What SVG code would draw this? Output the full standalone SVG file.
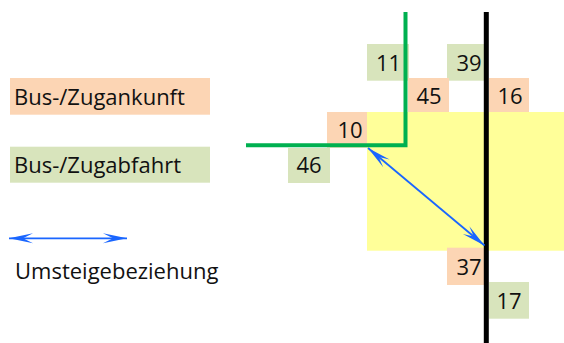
<svg xmlns="http://www.w3.org/2000/svg" width="564" height="343" viewBox="0 0 564 343">
<defs>
<style>
.arr{fill:#fcd5b4}
.dep{fill:#d8e4bc}
text{font-family:"Open Sans","Noto Sans","Liberation Sans",sans-serif;font-size:22px;fill:#111}
.num{text-anchor:middle}
.blue{stroke:#1a66ff;stroke-width:1.8;fill:none}
</style>
<marker id="ah" markerUnits="userSpaceOnUse" markerWidth="30" markerHeight="14" viewBox="-26 -7 28 14" refX="0" refY="0" orient="auto-start-reverse" overflow="visible">
<path d="M0,0 L-24,-5 L-14,0 L-24,5 Z" fill="#1a66ff"/>
</marker>
</defs>
<rect x="0" y="0" width="564" height="343" fill="#fff"/>
<g id="legend-arrival"><rect class="arr" x="10" y="78" width="200" height="36.7"/><text x="14" y="105">Bus-/Zugankunft</text></g>
<g id="legend-departure"><rect class="dep" x="10" y="146.7" width="200" height="36"/><text x="14" y="172.7">Bus-/Zugabfahrt</text></g>
<g id="legend-transfer"><line class="blue" x1="9" y1="238.3" x2="127" y2="238.3" marker-start="url(#ah)" marker-end="url(#ah)"/><text x="15" y="279.3">Umsteigebeziehung</text></g>
<g id="zone"><rect x="367" y="112" width="197" height="138.7" fill="#ffff99"/></g>
<g id="n11"><rect class="dep" x="367" y="44" width="42" height="36.7"/><text class="num" x="388.5" y="71">11</text></g>
<g id="n39"><rect class="dep" x="447" y="44" width="38" height="36.7"/><text class="num" x="469" y="71">39</text></g>
<g id="n45"><rect class="arr" x="408" y="78" width="41" height="34"/><text class="num" x="429" y="104">45</text></g>
<g id="n16"><rect class="arr" x="489" y="78" width="40" height="34"/><text class="num" x="510" y="104">16</text></g>
<g id="n10"><rect class="arr" x="327" y="112" width="40" height="35.7"/><text class="num" x="350" y="137.7">10</text></g>
<g id="n46"><rect class="dep" x="288" y="148" width="42" height="35"/><text class="num" x="309" y="172.5">46</text></g>
<g id="n37"><rect class="arr" x="447" y="247.7" width="37" height="37.3"/><text class="num" x="469" y="275">37</text></g>
<g id="n17"><rect class="dep" x="489" y="282" width="40" height="36.7"/><text class="num" x="509" y="309">17</text></g>
<g id="connectors">
<polyline points="405.5,12 405.5,145.3 246,145.3" fill="none" stroke="#00b050" stroke-width="4" stroke-linejoin="miter"/>
<line x1="486.3" y1="12" x2="486.3" y2="343" stroke="#000" stroke-width="5"/>
<line class="blue" x1="368" y1="148" x2="484.5" y2="245.5" marker-start="url(#ah)" marker-end="url(#ah)"/>
</g>
</svg>
